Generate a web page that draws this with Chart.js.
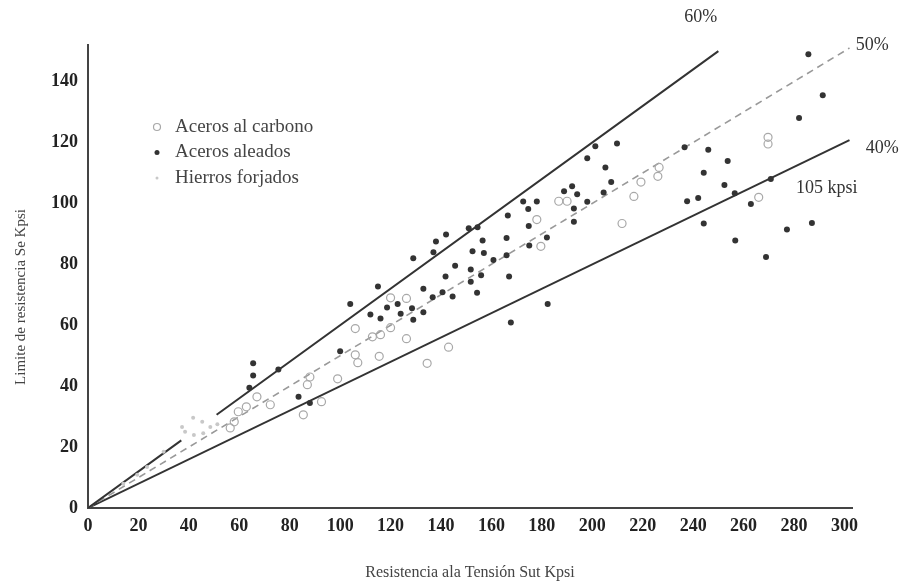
<!DOCTYPE html>
<html>
<head>
<meta charset="utf-8">
<script src="https://cdn.jsdelivr.net/npm/chart.js@4.4.0/dist/chart.umd.min.js"></script>
<style>
  html, body { margin: 0; padding: 0; background: #fff; }
  canvas { display: block; }
</style>
</head>
<body>
<canvas id="enduranceChart" width="903" height="586"></canvas>
<script>
// Aceros aleados (puntos negros)
const aleadosX = [64, 65.5, 65.5, 75.5, 83.5, 88, 100, 104, 112, 115, 116, 118.6, 122.8, 124, 128.5, 129, 133, 133, 136.7, 140.6,
  144.6, 129, 137, 138, 142, 141.8, 145.6, 151, 154.5, 166.5, 172.6, 178, 174.6, 174.8, 156.5, 166, 182, 152.5, 157, 175,
  160.8, 166, 151.8, 155.9, 151.8, 167, 154.3, 182.3, 167.7, 188.8, 192, 194, 198, 192.7, 192.7, 204.5, 201.2, 209.8, 198, 205.2,
  207.5, 236.6, 246, 253.7, 244.2, 252.4, 256.5, 270.8, 237.6, 242, 262.9, 244.2, 256.7, 268.9, 277.2, 287.1, 282, 291.4, 285.7];
const aleadosY = [39.5, 43.5, 47.5, 45.5, 36.5, 34.5, 51.5, 67, 63.5, 72.7, 62.2, 65.8, 67, 63.8, 65.6, 61.8, 64.3, 72, 69.2, 70.8,
  69.4, 82, 84, 87.5, 89.8, 76, 79.5, 91.8, 92.2, 96, 100.6, 100.6, 98.2, 92.6, 87.8, 88.6, 88.8, 84.3, 83.7, 86.2,
  81.4, 83, 78.3, 76.4, 74.3, 76, 70.7, 67, 60.9, 104, 105.6, 103, 100.5, 98.3, 94, 103.6, 118.8, 119.7, 114.8, 111.8,
  107, 118.4, 117.6, 113.9, 110.1, 106, 103.3, 108, 100.7, 101.8, 99.8, 93.4, 87.8, 82.4, 91.4, 93.6, 128, 135.5, 149];

// Aceros al carbono (circulos abiertos)
const carbonoX = [56.4, 58, 59.6, 62.8, 67, 72.3, 85.4, 92.6, 87, 88, 99, 107, 106, 115.5, 106, 112.8, 116, 120, 126.3, 134.5,
  143, 120, 126.3, 178, 179.6, 186.7, 190, 211.8, 216.5, 219.3, 226.5, 226, 266, 269.7, 269.7];
const carbonoY = [26.3, 28.3, 31.6, 33.2, 36.5, 33.9, 30.6, 34.9, 40.5, 43, 42.4, 47.7, 50.3, 49.8, 58.9, 56.2, 56.9, 59.2, 55.6, 47.5,
  52.8, 69, 68.8, 94.7, 85.9, 100.7, 100.7, 93.4, 102.3, 107, 111.8, 108.9, 102, 121.7, 119.5];

// Hierros forjados (puntos claros)
const forjadosX = [14, 19.5, 23.4, 30, 37.3, 41.7, 45.3, 48.5, 45.7, 42, 38.5, 51.3];
const forjadosY = [8, 10.9, 13.5, 18.5, 26.6, 29.6, 28.3, 26.6, 24.5, 24, 25, 27.5];

// Rectas Se/Sut
const lineNames = ["60%", "50%", "40%"];
const lineRatios = [0.6, 0.5, 0.4];
const lineSegments = [[[0, 37], [51, 250]], [[0, 302]], [[0, 302]]];

const xTicks = [0, 20, 40, 60, 80, 100, 120, 140, 160, 180, 200, 220, 240, 260, 280, 300];
const yTicks = [0, 20, 40, 60, 80, 100, 120, 140];

const legendNames = ["Aceros al carbono", "Aceros aleados", "Hierros forjados"];

const serif = "'Liberation Serif', 'DejaVu Serif', serif";

function toPoints(xs, ys) {
  return xs.map((x, i) => ({ x: x, y: ys[i] }));
}

// build a line from its segments, with a gap between them
function linePoints(ratio, segments) {
  const pts = [];
  segments.forEach((seg, i) => {
    if (i > 0) pts.push({ x: (segments[i - 1][1] + seg[0]) / 2, y: null });
    seg.forEach((x) => pts.push({ x: x, y: ratio * x }));
  });
  return pts;
}

const pointStyles = [
  { pointRadius: 4, pointBackgroundColor: "rgba(255,255,255,0)", pointBorderColor: "#a8a8a8", pointBorderWidth: 1.2 },
  { pointRadius: 3, pointBackgroundColor: "#333", pointBorderColor: "#333", pointBorderWidth: 0 },
  { pointRadius: 2, pointBackgroundColor: "#c8c8c8", pointBorderColor: "#c8c8c8", pointBorderWidth: 0 },
];

const lineStyles = [
  { borderColor: "#333", borderWidth: 2, borderDash: [] },
  { borderColor: "#999", borderWidth: 1.6, borderDash: [7, 5] },
  { borderColor: "#333", borderWidth: 2, borderDash: [] },
];

// labels next to the lines, the y title and the legend inside the plot
const overlay = {
  id: "overlay",
  afterDatasetsDraw(chart) {
    const { ctx, chartArea, scales } = chart;
    const x = scales.x;
    const y = scales.y;
    ctx.save();
    ctx.fillStyle = "#333";
    ctx.textAlign = "center";
    ctx.textBaseline = "middle";
    ctx.font = "18px " + serif;
    const labelPos = [[243, 161], [311, 152], [315, 118]];
    lineNames.forEach((name, i) => {
      ctx.fillText(name, x.getPixelForValue(labelPos[i][0]), y.getPixelForValue(labelPos[i][1]));
    });
    ctx.fillText("105 kpsi", x.getPixelForValue(293), y.getPixelForValue(105));

    // y axis title, a bit lower than the centre of the axis
    ctx.save();
    ctx.translate(21, chartArea.top + 252);
    ctx.rotate(-Math.PI / 2);
    ctx.fillStyle = "#444";
    ctx.font = "15px " + serif;
    ctx.fillText("Limite de resistencia Se Kpsi", 0, 0);
    ctx.restore();

    // legend
    ctx.textAlign = "left";
    ctx.font = "19px " + serif;
    legendNames.forEach((name, i) => {
      const ly = chartArea.top + 82 + i * 25.5;
      const lx = chartArea.left + 69;
      const st = pointStyles[i];
      ctx.beginPath();
      ctx.arc(lx, ly, st.pointRadius - 0.5, 0, Math.PI * 2);
      if (i === 0) {
        ctx.strokeStyle = st.pointBorderColor;
        ctx.lineWidth = 1.2;
        ctx.stroke();
      } else {
        ctx.fillStyle = st.pointBackgroundColor;
        ctx.fill();
      }
      ctx.fillStyle = "#444";
      ctx.fillText(name, lx + 18, ly);
    });
    ctx.restore();
  },
};

const pointSets = [toPoints(carbonoX, carbonoY), toPoints(aleadosX, aleadosY), toPoints(forjadosX, forjadosY)];

const datasets = [];
// points on top: lower index is drawn last
[1, 0, 2].forEach((i) => {
  datasets.push(Object.assign({ label: legendNames[i], data: pointSets[i], showLine: false }, pointStyles[i]));
});
lineNames.forEach((name, i) => {
  datasets.push(Object.assign({
    label: name,
    data: linePoints(lineRatios[i], lineSegments[i]),
    showLine: true,
    spanGaps: false,
    pointRadius: 0,
    fill: false,
  }, lineStyles[i]));
});

new Chart(document.getElementById("enduranceChart").getContext("2d"), {
  type: "scatter",
  data: { datasets: datasets },
  options: {
    responsive: false,
    animation: false,
    layout: { padding: { top: 45, right: 51, left: 0, bottom: 0 } },
    plugins: { legend: { display: false }, tooltip: { enabled: false } },
    scales: {
      x: {
        type: "linear",
        min: 0,
        max: 303,
        afterFit: (scale) => { scale.height = 78; },
        afterBuildTicks: (scale) => { scale.ticks = xTicks.map((v) => ({ value: v })); },
        ticks: { padding: 8, color: "#222", font: { family: serif, size: 18, weight: "bold" } },
        grid: { display: false, drawTicks: false },
        border: { display: true, color: "#444", width: 2 },
        title: {
          display: true,
          text: "Resistencia ala Tensión Sut Kpsi",
          color: "#444",
          padding: { top: 4, bottom: 4 },
          font: { family: serif, size: 16 },
        },
      },
      y: {
        type: "linear",
        min: 0,
        max: 152,
        afterFit: (scale) => { scale.width = 88; },
        afterBuildTicks: (scale) => { scale.ticks = yTicks.map((v) => ({ value: v })); },
        ticks: { padding: 10, color: "#222", font: { family: serif, size: 18, weight: "bold" } },
        grid: { display: false, drawTicks: false },
        border: { display: true, color: "#444", width: 2 },
      },
    },
  },
  plugins: [overlay],
});
</script>
</body>
</html>
